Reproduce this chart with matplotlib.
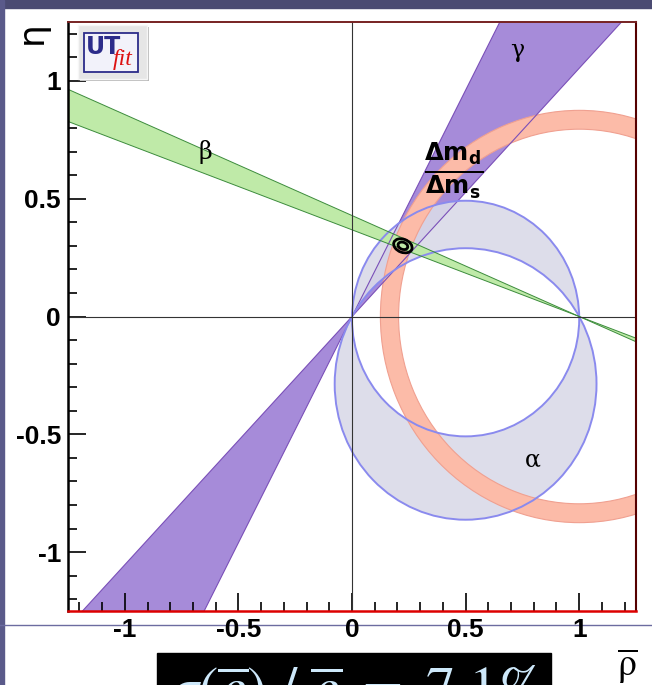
import numpy as np
import matplotlib.pyplot as plt
from matplotlib.patches import Ellipse, Rectangle, Annulus, Circle
from matplotlib.ticker import MultipleLocator

# band edges
gamma_deg = [46.5, 62.5]      # lines through (0,0)
beta_deg = [20.2, 23.2]       # lines through (1,0)
alpha_deg = [91.0, 119.8]     # circles through (0,0) and (1,0)
dm_ring = [0.795, 0.875]      # inner / outer radius around (1,0)

# fit result contours
fit_center = (0.224, 0.300)
fit_sizes = [(0.084, 0.056), (0.044, 0.030)]
fit_angle = -20

# text positions
band_labels = [("γ", 0.726, 1.131), ("β", -0.647, 0.698), ("α", 0.797, -0.609)]
dm_label_pos = (0.447, 0.622)
xticks = [-1, -0.5, 0, 0.5, 1]
yticks = [-1, -0.5, 0, 0.5, 1]

W, H = 652, 685
fig = plt.figure(figsize=(W / 100, H / 100), dpi=100)
fig.patch.set_facecolor("white")

# slide background bits
fig.add_artist(Rectangle((0, 1 - 8 / H), 1, 8 / H, transform=fig.transFigure,
                         color="#4b4b72", zorder=0))
fig.add_artist(Rectangle((0, 0), 4 / W, 1, transform=fig.transFigure,
                         color="#5a5a8a", zorder=0))
fig.add_artist(plt.Line2D([0, 1], [1 - 625 / H] * 2, transform=fig.transFigure,
                          color="#6c6ca0", lw=1, zorder=0))

ax = fig.add_axes([68 / W, (H - 611) / H, (636 - 68) / W, (611 - 22) / H])
ax.set_xlim(-1.25, 1.25)
ax.set_ylim(-1.25, 1.25)

R = 5.0
# gamma band
g1, g2 = np.radians(gamma_deg)
for s in (1, -1):
    ax.fill([0, s * R * np.cos(g1), s * R * np.cos(g2)],
            [0, s * R * np.sin(g1), s * R * np.sin(g2)],
            color="#a68bd9", lw=0, zorder=1)
    for g in (g1, g2):
        ax.plot([0, s * R * np.cos(g)], [0, s * R * np.sin(g)],
                color="#7a4fb8", lw=0.8, zorder=5)


# alpha band: symmetric difference of the two circles
def circle(a_deg):
    a = np.radians(a_deg)
    return 0.5 / np.tan(a), 0.5 / np.sin(a)


def arc(c, r, t0, t1):
    t = np.linspace(t0, t1, 300)
    return 0.5 + r * np.cos(t), c + r * np.sin(t)


(c1, r1), (c2, r2) = circle(alpha_deg[0]), circle(alpha_deg[1])
th1 = np.arctan2(-c1, 0.5)
th2 = np.arctan2(-c2, 0.5)
xa, ya = arc(c1, r1, th1, np.pi - th1)
xb, yb = arc(c2, r2, np.pi - th2, th2)
ax.fill(np.r_[xa, xb], np.r_[ya, yb], color="#dadae8", alpha=0.9, lw=0, zorder=2)
xa, ya = arc(c2, r2, np.pi - th2, 2 * np.pi + th2)
xb, yb = arc(c1, r1, 2 * np.pi + th1, np.pi - th1)
ax.fill(np.r_[xa, xb], np.r_[ya, yb], color="#dadae8", alpha=0.9, lw=0, zorder=2)
for c, r in ((c1, r1), (c2, r2)):
    ax.add_patch(Circle((0.5, c), r, fill=False, ec="#8a8aee", lw=1.4, zorder=5))

# dmd / dms ring
ax.add_patch(Annulus((1, 0), dm_ring[1], dm_ring[1] - dm_ring[0],
                     fc="#fcbba8", ec="#f0a090", lw=0.8, zorder=3))

# beta band
b1, b2 = np.radians(beta_deg)
for s in (1, -1):
    ax.fill([1, 1 - s * R * np.cos(b1), 1 - s * R * np.cos(b2)],
            [0, s * R * np.sin(b1), s * R * np.sin(b2)],
            color="#bfeaa8", lw=0, zorder=4)
    for b in (b1, b2):
        ax.plot([1, 1 - s * R * np.cos(b)], [0, s * R * np.sin(b)],
                color="#3c8c3c", lw=0.7, zorder=5)

# axes through origin
ax.axhline(0, color="#333333", lw=0.8, zorder=6)
ax.axvline(0, color="#333333", lw=0.8, zorder=6)

# fit contours
for w, h in fit_sizes:
    ax.add_patch(Ellipse(fit_center, w, h, angle=fit_angle, fill=False,
                         ec="black", lw=2, zorder=7))

for txt, x, y in band_labels:
    ax.text(x, y, txt, fontsize=17, family="DejaVu Serif", ha="center",
            va="center", zorder=8)
ax.text(dm_label_pos[0], dm_label_pos[1], r"$\mathbf{\frac{\Delta m_d}{\Delta m_s}}$",
        fontsize=25, ha="center", va="center", math_fontfamily="dejavusans",
        zorder=8)

# ticks / frame
ax.xaxis.set_minor_locator(MultipleLocator(0.1))
ax.yaxis.set_minor_locator(MultipleLocator(0.1))
ax.set_xticks(xticks)
ax.set_yticks(yticks)
ax.set_xticklabels([f"{v:g}" for v in xticks])
ax.set_yticklabels([f"{v:g}" for v in yticks])
ax.tick_params(which="both", direction="in", top=False, right=False,
               color="black", width=1.2)
ax.tick_params(which="major", length=13, labelsize=19, pad=5)
ax.tick_params(which="minor", length=6.5)
for lab in ax.get_xticklabels() + ax.get_yticklabels():
    lab.set_fontweight("bold")
    lab.set_family("Liberation Sans")
ax.spines["left"].set_linewidth(1.8)
ax.spines["bottom"].set_color("#dd0000")
ax.spines["bottom"].set_linewidth(1.8)
ax.spines["top"].set_color("#772222")
ax.spines["top"].set_linewidth(1.4)
ax.spines["right"].set_color("#550000")
ax.spines["right"].set_linewidth(1.5)
for sp in ax.spines.values():
    sp.set_zorder(9)

# axis titles
fig.text(32 / W, 1 - 33 / H, "η", fontsize=26, rotation=90, ha="center",
         va="center", family="DejaVu Sans")
fig.text(627 / W, 1 - 666 / H, r"$\overline{\mathrm{\rho}}$", fontsize=27,
         ha="center", va="center", math_fontfamily="stix")

# UTfit logo
fig.add_artist(Rectangle((80 / W, 1 - 81 / H), 69 / W, 54 / H, transform=fig.transFigure,
                         fc="#b8b8b8", lw=0, zorder=10))
fig.add_artist(Rectangle((78 / W, 1 - 79 / H), 69 / W, 54 / H, transform=fig.transFigure,
                         fc="#e6e6e6", ec="#f6f6f6", lw=1, zorder=10))
fig.add_artist(Rectangle((84 / W, 1 - 72 / H), 54 / W, 39 / H, transform=fig.transFigure,
                         fc="#f2f2fa", ec="#2c2c8a", lw=1.3, zorder=11))
fig.text(86 / W, 1 - 47 / H, "UT", fontsize=17, fontweight="bold", color="#2c2c8a",
         family="Liberation Sans Narrow", va="center", zorder=12)
fig.text(113 / W, 1 - 60 / H, "fit", fontsize=17, style="italic", color="#dd1111",
         family="Liberation Serif", va="center", zorder=12)

# black caption box (cut at the bottom, as on the slide)
fig.add_artist(Rectangle((157 / W, 0), (551 - 157) / W, (685 - 653) / H,
                         transform=fig.transFigure, color="black", zorder=10))
fig.text(355 / W, -23 / H,
         r"$\sigma(\overline{\rho})\ /\ \overline{\rho}\ =\ \mathrm{7.1\%}$",
         fontsize=42, color="#cde8fa", ha="center", va="baseline",
         math_fontfamily="stix", zorder=11)

fig.savefig("out.png", dpi=100)
